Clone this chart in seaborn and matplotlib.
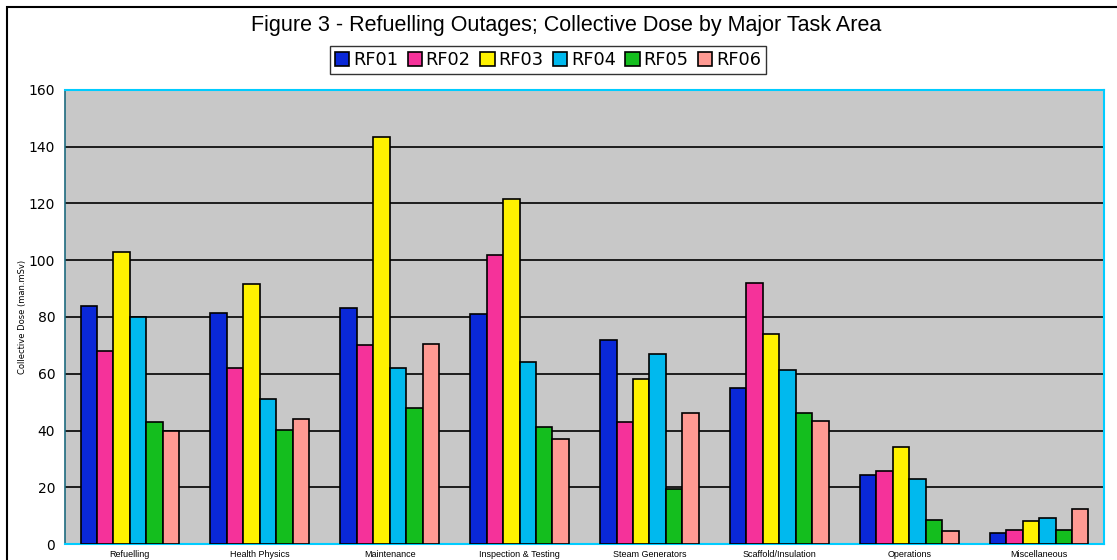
import pandas as pd
import numpy as np
import seaborn as sns
import matplotlib.pyplot as plt
from matplotlib.patches import Rectangle

tasks = ["Refuelling", "Health Physics", "Maintenance", "Inspection & Testing",
         "Steam Generators", "Scaffold/Insulation", "Operations", "Miscellaneous"]
outages = ["RF01", "RF02", "RF03", "RF04", "RF05", "RF06"]

rf01 = [84, 81.5, 83, 81, 72, 55, 24.3, 4.0]
rf02 = [68, 62, 70, 102, 43, 92, 25.8, 4.9]
rf03 = [103, 91.5, 143.5, 121.6, 58, 74, 34.2, 8.2]
rf04 = [80, 51.2, 62, 64.2, 67, 61.2, 23, 9.2]
rf05 = [43, 40.3, 48, 41.4, 19.3, 46, 8.5, 4.9]
rf06 = [40, 44.2, 70.5, 37, 46, 43.2, 4.7, 12.4]

colors = ["#0A28D8", "#F5329A", "#FFF200", "#00B9EE", "#14BE1E", "#FF9A93"]

df = pd.DataFrame({"Task": tasks, "RF01": rf01, "RF02": rf02, "RF03": rf03,
                   "RF04": rf04, "RF05": rf05, "RF06": rf06})
long = df.melt(id_vars="Task", var_name="Outage", value_name="Dose")

sns.set_style("white")
plt.rcParams["font.family"] = ["DejaVu Sans"]
plt.rcParams["text.color"] = "black"
plt.rcParams["axes.labelcolor"] = "black"
plt.rcParams["xtick.color"] = "black"
plt.rcParams["ytick.color"] = "black"

fig = plt.figure(figsize=(11.17, 5.6), dpi=100)
ax = fig.add_axes([65 / 1117, 16 / 560, (1104 - 65) / 1117, (544 - 90) / 560])
ax.set_facecolor("#C8C8C8")

sns.barplot(data=long, x="Task", y="Dose", hue="Outage", order=tasks,
            hue_order=outages, palette=colors, width=0.76, edgecolor="black",
            linewidth=1.2, saturation=1, ax=ax, zorder=3)

ax.set_ylim(0, 160)
ax.set_xlim(-0.5, len(tasks) - 0.5)
ax.set_yticks(np.arange(0, 161, 20))
ax.yaxis.grid(True, color="black", linewidth=1.2, zorder=0)
ax.set_axisbelow(True)
ax.tick_params(axis="y", labelsize=10, length=5, direction="out", width=1, pad=2)
ax.set_xticks(range(len(tasks)))
ax.set_xticklabels(tasks, fontsize=6.5, family="Liberation Sans")
ax.tick_params(axis="x", length=0, pad=4)
ax.set_xticks(np.arange(-0.5, len(tasks) + 0.5, 1), minor=True)
ax.tick_params(axis="x", which="minor", length=5, width=1)
ax.set_xlabel("")
ax.set_ylabel("Collective Dose (man.mSv)", fontsize=6)
ax.yaxis.set_label_coords(-0.0366, 0.5)

for side in ["top", "right", "bottom"]:
    ax.spines[side].set_color("#00CCFF")
    ax.spines[side].set_linewidth(1.5)
ax.spines["left"].set_color("#1E6B7F")
ax.spines["left"].set_linewidth(1.2)

ax.legend_.remove()
handles = [Rectangle((0, 0), 1, 1, facecolor=c, edgecolor="black", linewidth=1.2) for c in colors]
leg = fig.legend(handles, outages, loc="center", bbox_to_anchor=(548 / 1117, 1 - 60 / 560),
                 ncol=6, fontsize=12.8, frameon=True, fancybox=False, handlelength=0.8,
                 handleheight=0.8, handletextpad=0.2, columnspacing=0.55,
                 borderpad=0.3, borderaxespad=0)
leg.get_frame().set_edgecolor("black")
leg.get_frame().set_linewidth(1)

fig.text(566 / 1117, 1 - 25 / 560, "Figure 3 - Refuelling Outages; Collective Dose by Major Task Area",
         ha="center", va="center", fontsize=15.5, family="Liberation Sans")

fig.patches.append(Rectangle((7 / 1117, -0.1), 1.2, 1 - 7 / 560 + 0.1, transform=fig.transFigure,
                             fill=False, edgecolor="black", linewidth=1.5))

fig.savefig("out.png", dpi=100)
